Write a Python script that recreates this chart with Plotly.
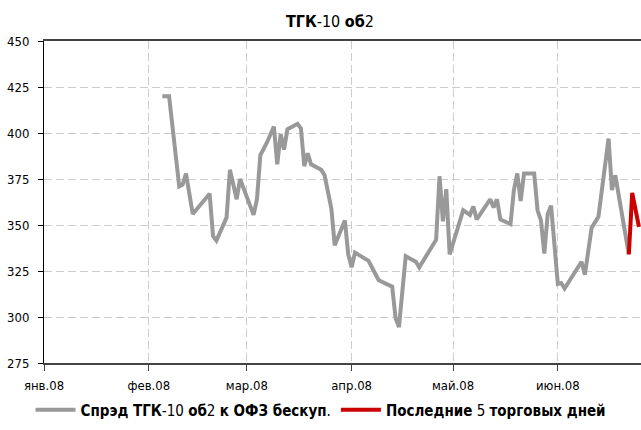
import plotly.graph_objects as go

spread_dates = [
    "2008-02-05", "2008-02-07", "2008-02-10", "2008-02-11", "2008-02-12", "2008-02-14",
    "2008-02-19", "2008-02-20", "2008-02-21", "2008-02-24", "2008-02-25", "2008-02-27",
    "2008-02-28", "2008-03-03", "2008-03-04", "2008-03-05", "2008-03-07", "2008-03-09",
    "2008-03-10", "2008-03-11", "2008-03-12", "2008-03-13", "2008-03-16", "2008-03-17",
    "2008-03-18", "2008-03-19", "2008-03-20", "2008-03-23", "2008-03-24", "2008-03-26",
    "2008-03-27", "2008-03-30", "2008-03-31", "2008-04-01", "2008-04-02", "2008-04-06",
    "2008-04-08", "2008-04-09", "2008-04-13", "2008-04-14", "2008-04-15", "2008-04-17",
    "2008-04-20", "2008-04-21", "2008-04-26", "2008-04-27", "2008-04-28", "2008-04-29",
    "2008-04-30", "2008-05-04", "2008-05-06", "2008-05-07", "2008-05-08", "2008-05-12",
    "2008-05-13", "2008-05-14", "2008-05-15", "2008-05-18", "2008-05-19", "2008-05-20",
    "2008-05-21", "2008-05-22", "2008-05-25", "2008-05-26", "2008-05-27", "2008-05-28",
    "2008-05-29", "2008-05-30", "2008-06-01", "2008-06-02", "2008-06-03", "2008-06-08",
    "2008-06-09", "2008-06-11", "2008-06-13", "2008-06-16", "2008-06-17", "2008-06-18",
    "2008-06-22",
]
spread_values = [
    420, 420, 371, 372, 378, 356,
    367, 344, 341.5, 354, 380, 364,
    375, 355.5, 364, 388, 395, 403.5,
    383, 399.5, 391, 402, 405, 402.5,
    382, 389, 383, 380, 377, 359,
    339, 352.5, 334, 327, 335, 330.5,
    323.5, 320, 316.5, 299.5, 294.5, 333,
    330, 327, 342, 376.5, 352, 369.5,
    334, 358, 355.5, 360, 353, 364,
    359.5, 364, 353, 350.5, 369, 378,
    363, 378, 378, 358, 352.5, 334.5,
    356, 360.5, 318, 318.5, 315.5, 330,
    323, 348.5, 354.5, 397, 369, 377,
    334,
]
last_dates = ["2008-06-22", "2008-06-23", "2008-06-25"]
last_values = [334, 367.5, 349]

tick_dates = ["2008-01-01", "2008-02-01", "2008-03-01", "2008-04-01", "2008-05-01", "2008-06-01"]
tick_labels = ["янв.08", "фев.08", "мар.08", "апр.08", "май.08", "июн.08"]
y_ticks = [275, 300, 325, 350, 375, 400, 425, 450]

assert len(spread_dates) == len(spread_values)

FONT = "Liberation Sans Narrow, Arial Narrow, DejaVu Sans Condensed, sans-serif"

W, H = 641, 430

fig = go.Figure()
fig.add_trace(go.Scatter(
    x=spread_dates, y=spread_values, mode="lines",
    line=dict(color="#999999", width=4),
    name="<b>Спрэд ТГК</b>-10 <b>об</b>2 <b>к ОФЗ бескуп</b>.",
))
fig.add_trace(go.Scatter(
    x=last_dates, y=last_values, mode="lines",
    line=dict(color="#CC0000", width=4),
    name="<b>Последние</b> 5 <b>торговых дней</b>",
))

fig.update_layout(
    width=W, height=H,
    margin=dict(l=44, r=0, t=41, b=67, autoexpand=False),
    paper_bgcolor="white", plot_bgcolor="white",
    font=dict(family=FONT, size=13, color="black"),
    showlegend=True,
    title=dict(
        text="<b>ТГК</b>-10 <b>об</b>2",
        x=0.479, xref="paper", xanchor="center",
        y=1 - 21 / H, yref="container", yanchor="middle",
        font=dict(family=FONT, size=16, color="black"),
    ),
    legend=dict(
        orientation="h", x=0.464, xanchor="center",
        y=-0.146, yanchor="middle",
        font=dict(family=FONT, size=15, color="black"),
        itemwidth=40, tracegroupgap=0, bgcolor="rgba(0,0,0,0)",
    ),
)

fig.update_xaxes(
    type="date",
    range=["2008-01-01", "2008-06-25 14:24"],
    tickmode="array", tickvals=tick_dates, ticktext=tick_labels,
    showgrid=True, gridcolor="#cccccc", gridwidth=1, griddash="8px,4px",
    showline=True, linecolor="#444444", linewidth=1.5, mirror=True,
    ticks="outside", ticklen=6, tickcolor="#444444",
    tickfont=dict(family=FONT, size=13, color="black"),
    ticklabelstandoff=4,
    zeroline=False,
)
fig.update_yaxes(
    range=[275, 450],
    tickmode="array", tickvals=y_ticks,
    showgrid=True, gridcolor="#cccccc", gridwidth=1, griddash="8px,4px",
    showline=True, linecolor="black", linewidth=1,
    ticks="outside", ticklen=5, tickcolor="black",
    tickfont=dict(family=FONT, size=13, color="black"),
    ticklabelstandoff=6,
    zeroline=False,
)

fig.write_html(
    "out.html",
    config={"displayModeBar": False},
    post_script="document.body.style.margin='0';document.body.style.overflow='hidden';",
)
